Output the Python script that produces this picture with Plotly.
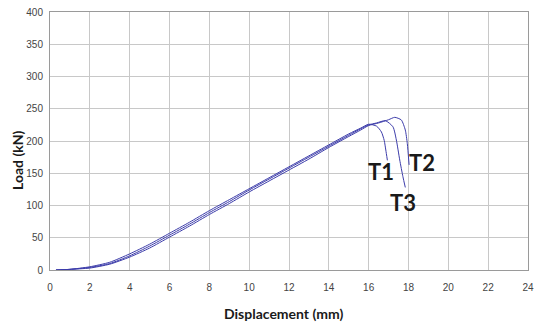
import plotly.graph_objects as go

# Displacement (mm) / Load (kN)
t1_x = [0.3, 1.0, 2.0, 3.0, 4.0, 5.0, 6.0, 7.0, 8.0, 9.0, 10.0, 11.0, 12.0, 13.0, 14.0, 15.0, 15.6, 16.0, 16.4, 16.64, 16.78, 16.86, 16.94]
t1_y = [0, 1, 5, 12, 25, 40, 57, 74, 92, 109, 126, 143, 160, 177, 194, 211, 220, 226, 223, 214, 201, 186, 170]

t2_x = [0.3, 1.0, 2.0, 3.0, 4.0, 5.0, 6.0, 7.0, 8.0, 9.0, 10.0, 11.0, 12.0, 13.0, 14.0, 15.0, 15.6, 16.0, 16.5, 17.0, 17.31, 17.64, 17.84, 17.94, 18.03]
t2_y = [0, 1, 3, 9, 20, 34, 51, 68, 86, 103, 121, 138, 155, 172, 190, 207, 217, 224, 228, 233, 236.7, 232.6, 217, 196, 163]

t3_x = [0.3, 1.0, 2.0, 3.0, 4.0, 5.0, 6.0, 7.0, 8.0, 9.0, 10.0, 11.0, 12.0, 13.0, 14.0, 15.0, 15.6, 16.0, 16.4, 16.84, 17.22, 17.39, 17.56, 17.72, 17.84]
t3_y = [0, 1, 4, 10, 22, 37, 54, 71, 89, 106, 124, 141, 158, 175, 192, 209, 219, 225, 228, 231.5, 222, 201.6, 170.5, 144.7, 128]

labels = ["T1", "T2", "T3"]
label_x = [16.6, 18.7, 17.7]
label_y = [152, 167, 105]

x_ticks = list(range(0, 25, 2))
y_ticks = list(range(0, 401, 50))

line_color = "#3c3caa"

fig = go.Figure()
for xs, ys, name in [(t1_x, t1_y, "T1"), (t2_x, t2_y, "T2"), (t3_x, t3_y, "T3")]:
    fig.add_trace(go.Scatter(x=xs, y=ys, mode="lines", name=name,
                             line=dict(color=line_color, width=1, shape="spline", smoothing=0.6)))

for lab, lx, ly in zip(labels, label_x, label_y):
    fig.add_annotation(x=lx, y=ly, text=lab, showarrow=False,
                       font=dict(family="Lato", size=22, color="#1a1a1a", weight="bold"))

plot_w = 534 - 50 - 6
fig.add_annotation(xref="paper", yref="paper", x=(283 - 50) / plot_w, y=-(313 - 270) / 258,
                   xanchor="center", yanchor="middle",
                   text="Displacement (mm)", showarrow=False,
                   font=dict(family="Lato", size=14, color="#1a1a1a", weight="bold"))
fig.add_annotation(xref="paper", yref="paper", x=-(50 - 17) / plot_w, y=(270 - 160) / 258,
                   xanchor="center", yanchor="middle",
                   text="Load (kN)", showarrow=False, textangle=-90,
                   font=dict(family="Lato", size=14, color="#1a1a1a", weight="bold"))

axis_common = dict(showgrid=True, gridcolor="#c8c8c8", gridwidth=1,
                   showline=True, linecolor="#9a9a9a", linewidth=1, mirror=True,
                   zeroline=False, ticks="", ticklabeloverflow="allow",
                   tickfont=dict(family="Liberation Sans", size=10, color="#444444"))

fig.update_xaxes(range=[0, 24], tickvals=x_ticks, ticktext=[str(v) for v in x_ticks],
                 ticklabelstandoff=8, **axis_common)
fig.update_yaxes(range=[0, 400], tickvals=y_ticks, ticktext=[str(v) for v in y_ticks],
                 ticklabelstandoff=4, **axis_common)

fig.update_layout(width=534, height=323, showlegend=False,
                  margin=dict(l=50, r=6, t=12, b=53, autoexpand=False),
                  paper_bgcolor="white", plot_bgcolor="white")

fig.write_html("out.html")
